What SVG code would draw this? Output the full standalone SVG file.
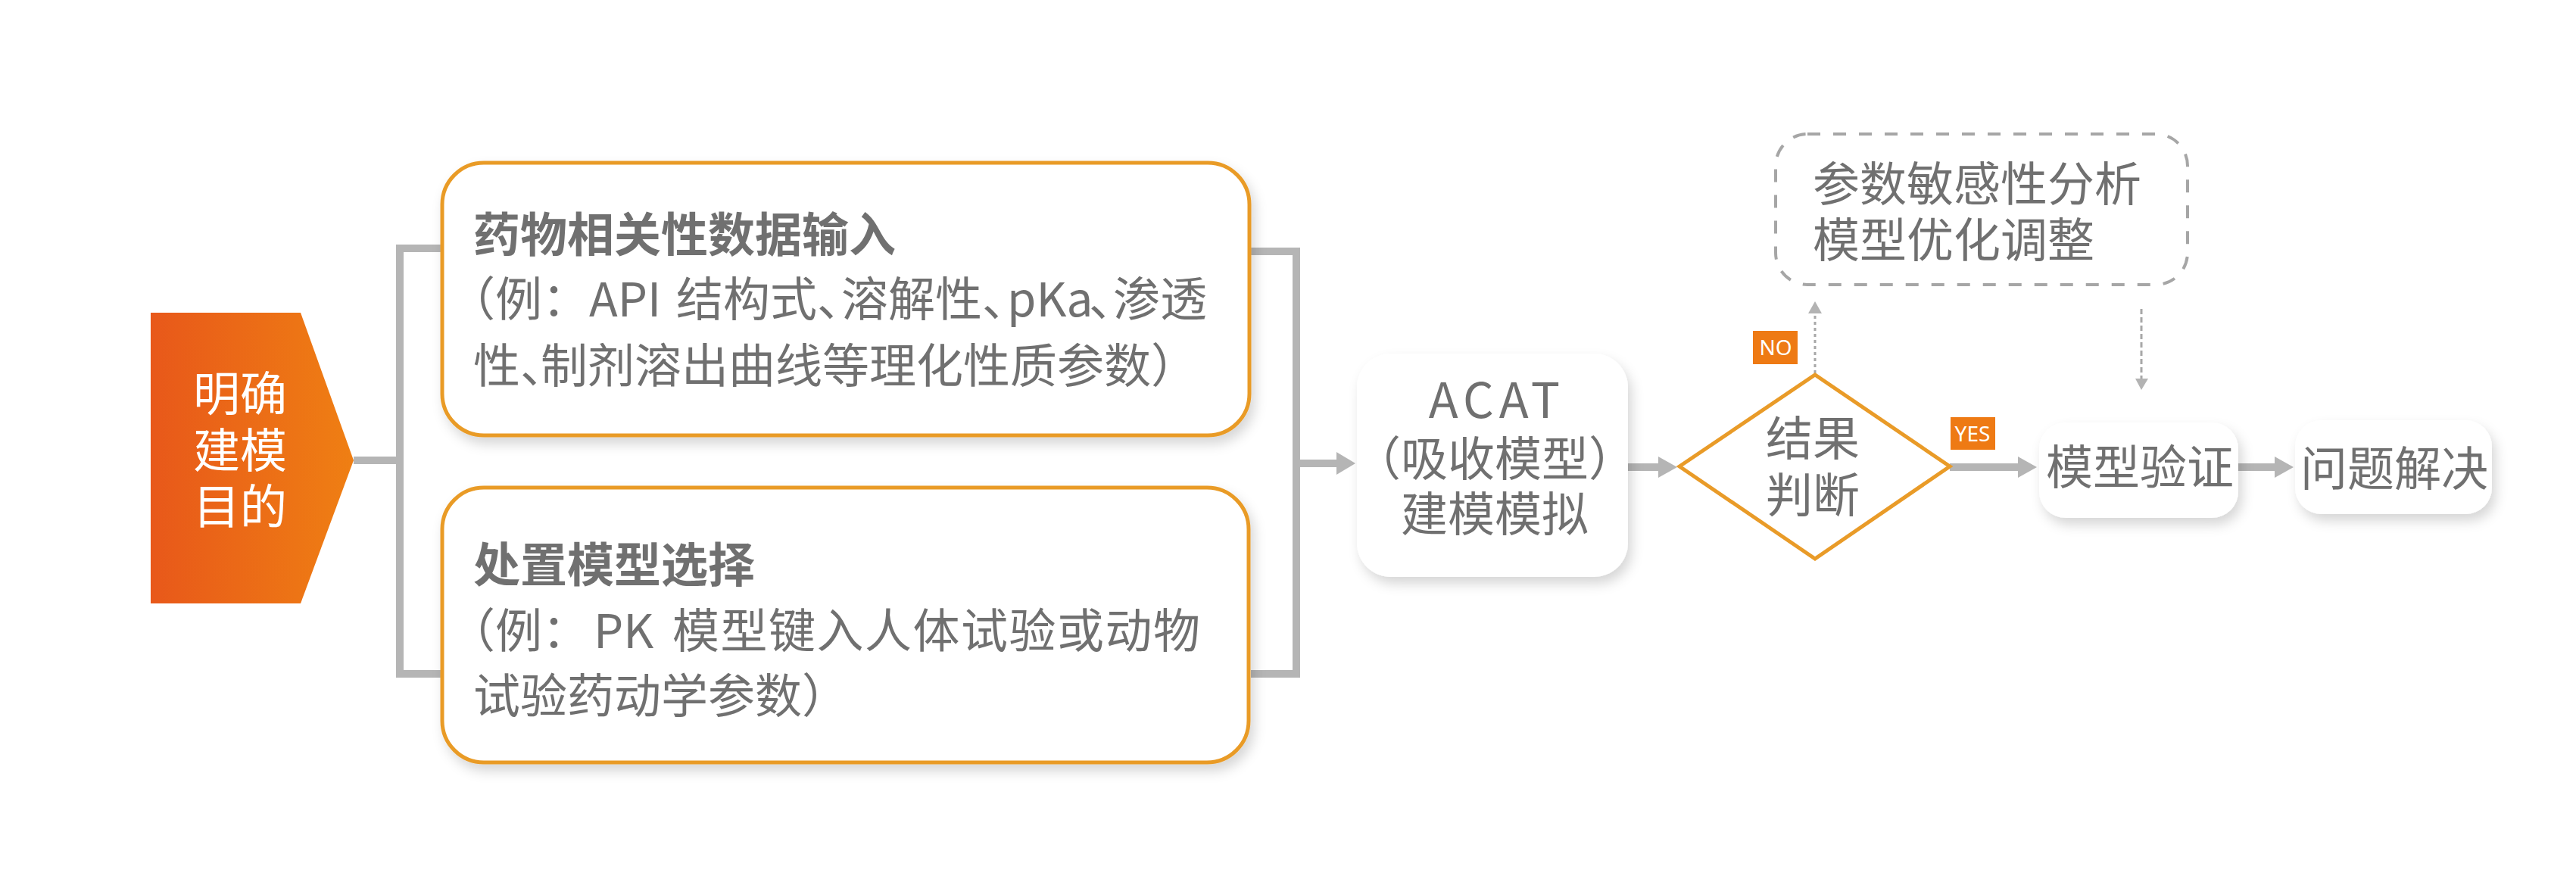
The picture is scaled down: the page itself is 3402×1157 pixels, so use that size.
<svg xmlns="http://www.w3.org/2000/svg" width="3402" height="1157" viewBox="0 0 3402 1157">
  <defs>
    <linearGradient id="gOrange" x1="0" y1="0" x2="1" y2="0">
      <stop offset="0" stop-color="#E8581A"/>
      <stop offset="1" stop-color="#EF7F13"/>
    </linearGradient>
    <filter id="shadow" x="-20%" y="-20%" width="140%" height="150%">
      <feDropShadow dx="5" dy="9" stdDeviation="8" flood-color="#000000" flood-opacity="0.16"/>
    </filter>
    <style>
      .t { font-family: "Noto Sans CJK SC", "Noto Sans", sans-serif; fill: #707070; font-size: 62px; }
      .b { font-weight: 700; }
      .w { fill: #FFFFFF; }
      .c { text-anchor: middle; }
      .h { font-feature-settings: "halt" 1; }
      .obox { fill: #FFFFFF; stroke: #E99B28; stroke-width: 5; }
      .wbox { fill: #FFFFFF; }
      .conn { stroke: #B5B5B5; stroke-width: 10; fill: none; }
      .head { fill: #B5B5B5; }
      .dot { stroke: #A8A8A8; stroke-width: 3; fill: none; }
      .dhead { fill: #B3B3B3; }
      .tag { fill: #EE7A14; }
      .tagt { font-family: "Noto Sans", "Liberation Sans", sans-serif; font-size: 28px; fill: #FFFFFF; text-anchor: middle; }
    </style>
  </defs>
  <rect x="0" y="0" width="3402" height="1157" fill="#FFFFFF"/>

  <g id="connectors">
    <polyline class="conn" points="584,328 528,328 528,890 584,890"/>
    <line class="conn" x1="467" y1="608" x2="528" y2="608"/>
    <polyline class="conn" points="1652,332 1712,332 1712,890 1652,890"/>
    <line class="conn" x1="1712" y1="612" x2="1768" y2="612"/>
    <polygon class="head" points="1765,597 1790,612 1765,627"/>
    <line class="conn" x1="2150" y1="617" x2="2192" y2="617"/>
    <polygon class="head" points="2190,603 2215,617 2190,631"/>
    <line class="conn" x1="2575" y1="617" x2="2668" y2="617"/>
    <polygon class="head" points="2665,603 2690,617 2665,631"/>
    <line class="conn" x1="2956" y1="617" x2="3007" y2="617"/>
    <polygon class="head" points="3004,603 3029,617 3004,631"/>
    <line class="dot" x1="2397" y1="493" x2="2397" y2="414" stroke-dasharray="4 4"/>
    <polygon class="dhead" points="2388,414 2397,398 2406,414"/>
    <line class="dot" x1="2828" y1="408" x2="2828" y2="500" stroke-dasharray="7 4"/>
    <polygon class="dhead" points="2820,500 2828,515 2837,500"/>
  </g>

  <g id="goal">
    <polygon points="199,413 397,413 467,608 397,797 199,797" fill="url(#gOrange)"/>
    <text class="t w c" font-size="60"><tspan x="317" y="543">明确</tspan><tspan x="317" y="618">建模</tspan><tspan x="317" y="692">目的</tspan></text>
  </g>

  <g id="drug-input">
    <rect class="obox" x="584" y="215" width="1066" height="360" rx="55" ry="55" filter="url(#shadow)"/>
    <text class="t"><tspan class="b" x="625" y="333">药物相关性数据输入</tspan><tspan x="592" y="418">（例：</tspan><tspan x="778">API</tspan><tspan x="893">结构式</tspan><tspan class="h">、</tspan><tspan x="1111">溶解性</tspan><tspan class="h">、</tspan><tspan x="1330">pKa</tspan><tspan class="h" x="1438">、</tspan><tspan x="1470">渗透</tspan><tspan x="625" y="506">性</tspan><tspan class="h">、</tspan><tspan x="714">制剂溶出曲线等理化性质参数）</tspan></text>
  </g>

  <g id="disposition-model">
    <rect class="obox" x="584" y="644" width="1065" height="363" rx="55" ry="55" filter="url(#shadow)"/>
    <text class="t"><tspan class="b" x="625" y="769">处置模型选择</tspan><tspan x="592" y="856">（例：</tspan><tspan x="784">PK</tspan><tspan x="888" letter-spacing="1.5">模型键入人体试验或动物</tspan><tspan x="625" y="942">试验药动学参数）</tspan></text>
  </g>

  <g id="acat">
    <rect class="wbox" x="1792" y="467" width="358" height="295" rx="45" ry="45" filter="url(#shadow)"/>
    <text class="t c"><tspan x="1977" y="552" font-size="64" letter-spacing="7">ACAT</tspan><tspan x="1974" y="629">（吸收模型）</tspan><tspan x="1974" y="702">建模模拟</tspan></text>
  </g>

  <g id="decision">
    <polygon points="2218,616 2397,495 2575,616 2397,738" fill="#FFFFFF" stroke="#E99B28" stroke-width="5" stroke-linejoin="miter"/>
    <text class="t c"><tspan x="2394" y="602">结果</tspan><tspan x="2394" y="677">判断</tspan></text>
  </g>

  <g id="label-no">
    <rect class="tag" x="2315" y="437" width="59" height="44"/>
    <text class="tagt" x="2345" y="469">NO</text>
  </g>

  <g id="label-yes">
    <rect class="tag" x="2576" y="551" width="59" height="43"/>
    <text class="tagt" x="2605" y="583">YES</text>
  </g>

  <g id="sensitivity">
    <rect x="2345" y="177" width="544" height="199" rx="42" ry="42" fill="#FFFFFF" stroke="#A6A6A6" stroke-width="4" stroke-dasharray="17 17"/>
    <text class="t"><tspan x="2394" y="266">参数敏感性分析</tspan><tspan x="2394" y="340">模型优化调整</tspan></text>
  </g>

  <g id="validation">
    <rect class="wbox" x="2693" y="558" width="263" height="126" rx="35" ry="35" filter="url(#shadow)"/>
    <text class="t c" x="2826" y="640">模型验证</text>
  </g>

  <g id="solution">
    <rect class="wbox" x="3031" y="555" width="260" height="124" rx="35" ry="35" filter="url(#shadow)"/>
    <text class="t c" x="3162" y="642">问题解决</text>
  </g>
</svg>
